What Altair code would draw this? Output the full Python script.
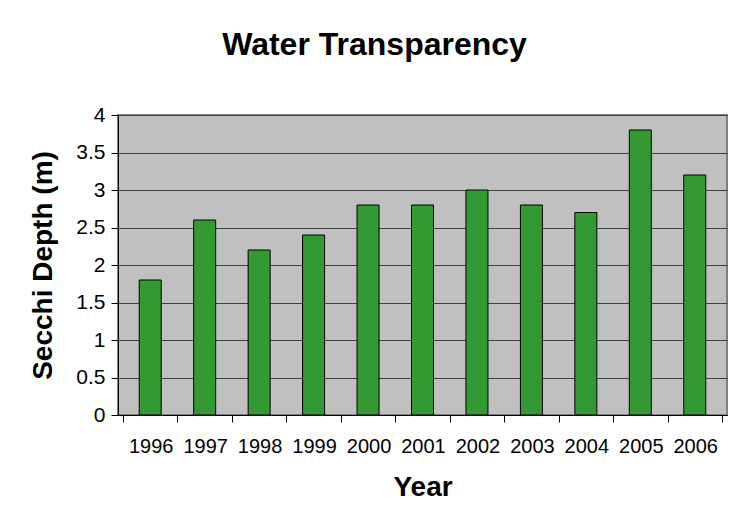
import altair as alt
import pandas as pd

years = [1996, 1997, 1998, 1999, 2000, 2001, 2002, 2003, 2004, 2005, 2006]
depths = [1.8, 2.6, 2.2, 2.4, 2.8, 2.8, 3.0, 2.8, 2.7, 3.8, 3.2]
x_tick_edges = [1995.5, 1996.5, 1997.5, 1998.5, 1999.5, 2000.5, 2001.5,
                2002.5, 2003.5, 2004.5, 2005.5, 2006.5]
y_ticks = [0, 0.5, 1, 1.5, 2, 2.5, 3, 3.5, 4]

df = pd.DataFrame({"Year": years, "Depth": depths})

FONT = "Liberation Sans"

chart = alt.Chart(df).mark_bar(
    color="#339933", stroke="#000000", strokeWidth=1, width=22
).encode(
    x=alt.X(
        "Year:Q",
        scale=alt.Scale(domain=[1995.5, 2006.5], nice=False, zero=False),
        axis=alt.Axis(
            values=x_tick_edges,
            labelExpr="datum.value < 2006 ? format(datum.value + 0.5, 'd') : ''",
            labelOffset=27.7,
            labelFlush=False,
            labelOverlap=False,
            grid=False,
            tickSize=7,
            tickColor="#000000",
            domainColor="#000000",
            labelPadding=14,
            labelFontSize=20,
            labelFont=FONT,
            labelColor="#000000",
            title="Year",
            titleFont=FONT,
            titleFontSize=28,
            titleFontWeight="bold",
            titleColor="#000000",
            titleBaseline="alphabetic",
            titleY=80,
        ),
    ),
    y=alt.Y(
        "Depth:Q",
        scale=alt.Scale(domain=[0, 4], nice=False),
        axis=alt.Axis(
            values=y_ticks,
            format=".1~f",
            grid=True,
            gridColor="#404040",
            gridWidth=1,
            tickSize=7,
            tickColor="#000000",
            domainColor="#000000",
            labelPadding=6,
            labelFontSize=21,
            labelFont=FONT,
            labelColor="#000000",
            title="Secchi Depth (m)",
            titleFont=FONT,
            titleFontSize=28,
            titleFontWeight="bold",
            titleColor="#000000",
            titleAngle=270,
            titleBaseline="middle",
            titleX=-75,
        ),
    ),
).properties(
    width=609,
    height=300,
    title=alt.TitleParams(
        "Water Transparency",
        font=FONT,
        fontSize=32,
        fontWeight="bold",
        color="#000000",
        anchor="middle",
        dx=-48,
        dy=-38,
    ),
    autosize=alt.AutoSizeParams(type="none"),
    padding={"left": 110, "top": 107, "right": 1, "bottom": 100},
    background="#ffffff",
).configure_view(
    fill="#c0c0c0",
    stroke="#808080",
    strokeWidth=2,
)

chart.save("out.html", embed_options={"renderer": "svg", "actions": False})
